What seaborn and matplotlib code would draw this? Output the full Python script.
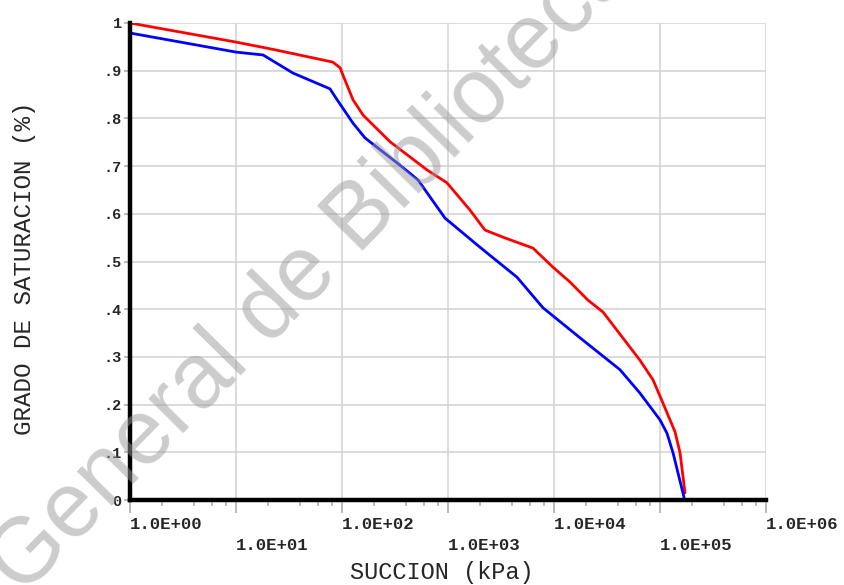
import numpy as np
import pandas as pd
import seaborn as sns
import matplotlib.pyplot as plt
from matplotlib.ticker import FixedLocator, NullFormatter

sns.set_style("white")
plt.rcParams['font.family'] = ['Liberation Mono', 'DejaVu Sans']

# curves (succion in kPa, saturation as fraction)
red_succion = [1.0, 10, 22, 82, 96, 102, 127, 158, 284, 634, 977, 1610, 2230, 3300,
               6340, 9780, 14150, 20900, 29000, 64700, 85900, 106700, 138600, 154500, 172200]
red_saturacion = [1.0, 0.96, 0.945, 0.918, 0.906, 0.891, 0.839, 0.807, 0.751, 0.692, 0.665,
                  0.608, 0.566, 0.551, 0.528, 0.488, 0.457, 0.419, 0.394, 0.293, 0.252,
                  0.203, 0.143, 0.099, 0.015]

blue_succion = [1.0, 10, 18, 34.5, 77, 90, 127, 165, 352, 521, 937, 2000, 4480, 7870,
                17600, 42000, 64700, 100000, 116400, 132700, 168400]
blue_saturacion = [0.979, 0.939, 0.933, 0.895, 0.862, 0.839, 0.790, 0.759, 0.702, 0.671,
                   0.591, 0.530, 0.467, 0.403, 0.340, 0.273, 0.224, 0.168, 0.140, 0.099, 0.006]

decades = [1e0, 1e1, 1e2, 1e3, 1e4, 1e5, 1e6]
decade_labels = ["1.0E+00", "1.0E+01", "1.0E+02", "1.0E+03", "1.0E+04", "1.0E+05", "1.0E+06"]
y_ticks = [0, .1, .2, .3, .4, .5, .6, .7, .8, .9, 1]
y_labels = ["0", ".1", ".2", ".3", ".4", ".5", ".6", ".7", ".8", ".9", "1"]

df = pd.concat([
    pd.DataFrame({"succion": red_succion, "saturacion": red_saturacion, "curva": "red"}),
    pd.DataFrame({"succion": blue_succion, "saturacion": blue_saturacion, "curva": "blue"}),
])

fig = plt.figure(figsize=(8.45, 5.85), dpi=100)
ax = fig.add_axes([130 / 845, 1 - 500 / 585, 636 / 845, 477 / 585])

sns.lineplot(data=df, x="succion", y="saturacion", hue="curva",
             palette={"red": "#ff0000", "blue": "#0000ff"},
             sort=False, estimator=None, lw=2, legend=False, ax=ax, zorder=3)

ax.set_xscale("log")
ax.set_xlim(1, 1e6)
ax.set_ylim(0, 1)

# ticks: labels left-aligned at the decade, alternating in two rows
ax.xaxis.set_major_locator(FixedLocator(decades))
minors = [d * m for d in decades[:-1] for m in (2, 4, 6, 8)]
ax.xaxis.set_minor_locator(FixedLocator(minors))
ax.xaxis.set_minor_formatter(NullFormatter())
ax.set_xticks(decades)
ax.set_xticklabels([lab if i % 2 == 0 else "\n" + lab for i, lab in enumerate(decade_labels)])
ax.tick_params(axis="x", which="major", direction="out", length=9.5, width=1.1,
               color="#a8a8a8", labelsize=12.5, pad=3, bottom=True)
ax.tick_params(axis="x", which="minor", direction="out", length=4, width=1.1,
               color="#a8a8a8", bottom=True)
for lab in ax.get_xticklabels():
    lab.set_ha("left")
    lab.set_linespacing(1.45)
    lab.set_fontweight("bold")

ax.set_yticks(y_ticks)
ax.set_yticklabels(y_labels, fontweight="bold")
ax.tick_params(axis="y", direction="out", length=4, width=1.1, color="#a8a8a8",
               labelsize=11, pad=2, left=True)

ax.grid(True, which="major", color="#d4d4d4", lw=1.2)
ax.set_axisbelow(True)

for side in ("top", "right"):
    ax.spines[side].set_visible(False)
for side in ("left", "bottom"):
    ax.spines[side].set_linewidth(3.2)
    ax.spines[side].set_color("black")
    ax.spines[side].set_zorder(4)

ax.set_xlabel("SUCCION (kPa)", fontsize=17)
ax.xaxis.set_label_coords(0.49, -0.128)
ax.set_ylabel("GRADO DE SATURACION (%)", fontsize=17.5)
ax.yaxis.set_label_coords(-0.148, 0.485)

# watermark
fig.text(312 / 845, 1 - 268 / 585, "General de Biblioteca", family="Liberation Sans",
         fontsize=66, color="#9a9a9a", alpha=0.5, rotation=45.5,
         ha="center", va="center", rotation_mode="anchor", zorder=10)

fig.savefig("out.png", dpi=100)
plt.close()
